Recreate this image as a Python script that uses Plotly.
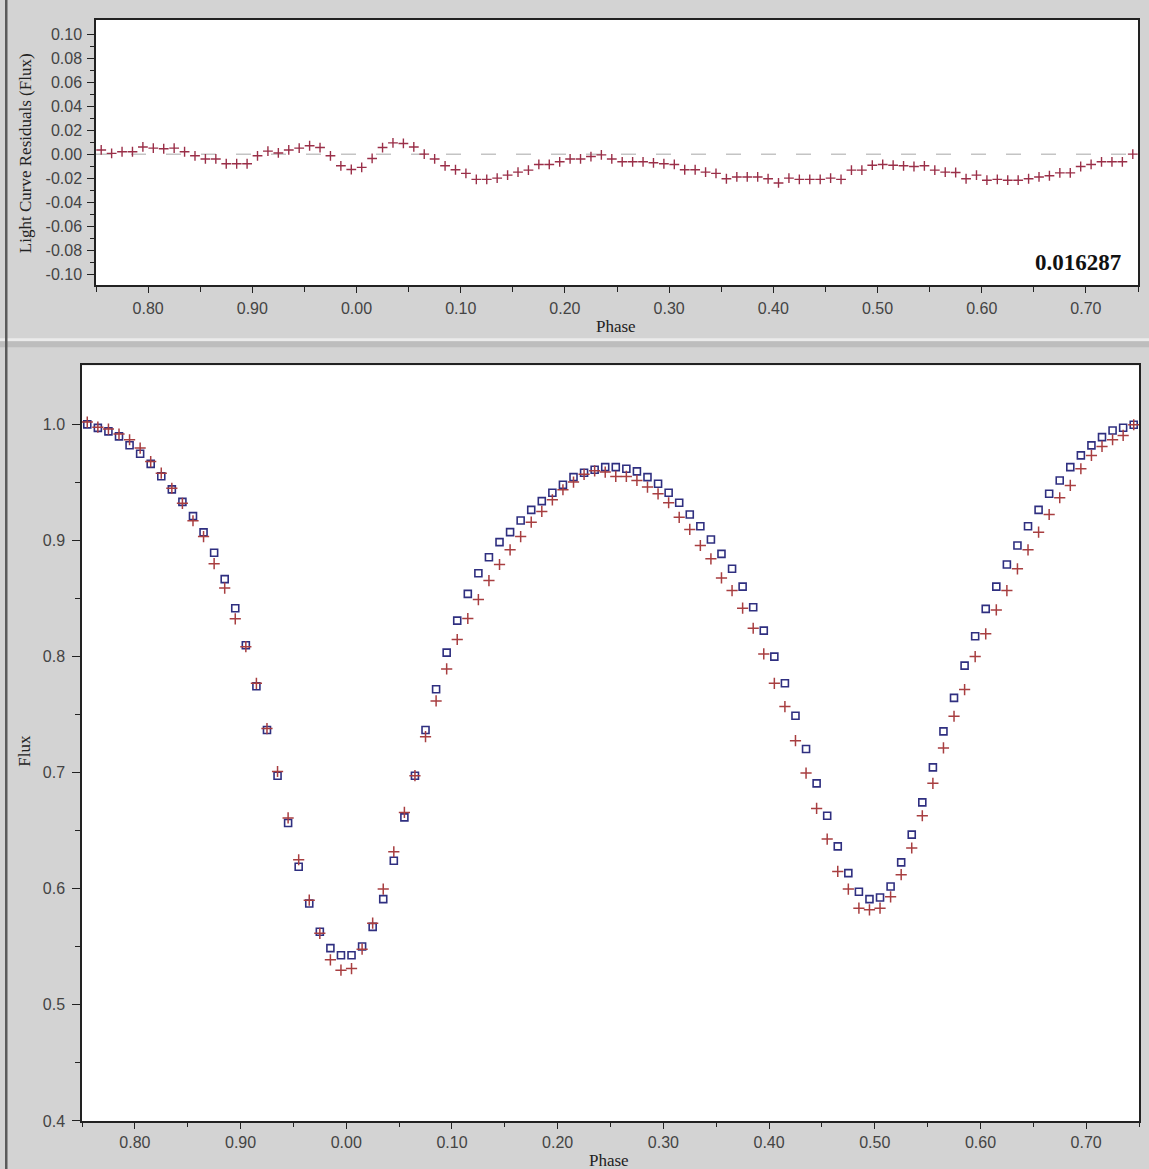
import plotly.graph_objects as go

# ---------------- data ----------------
PHASE = [
    0.755, 0.765, 0.775, 0.785, 0.795, 0.805, 0.815, 0.825, 0.835, 0.845,
    0.855, 0.865, 0.875, 0.885, 0.895, 0.905, 0.915, 0.925, 0.935, 0.945,
    0.955, 0.965, 0.975, 0.985, 0.995, 1.005, 1.015, 1.025, 1.035, 1.045,
    1.055, 1.065, 1.075, 1.085, 1.095, 1.105, 1.115, 1.125, 1.135, 1.145,
    1.155, 1.165, 1.175, 1.185, 1.195, 1.205, 1.215, 1.225, 1.235, 1.245,
    1.255, 1.265, 1.275, 1.285, 1.295, 1.305, 1.315, 1.325, 1.335, 1.345,
    1.355, 1.365, 1.375, 1.385, 1.395, 1.405, 1.415, 1.425, 1.435, 1.445,
    1.455, 1.465, 1.475, 1.485, 1.495, 1.505, 1.515, 1.525, 1.535, 1.545,
    1.555, 1.565, 1.575, 1.585, 1.595, 1.605, 1.615, 1.625, 1.635, 1.645,
    1.655, 1.665, 1.675, 1.685, 1.695, 1.705, 1.715, 1.725, 1.735, 1.745,
]

RESIDUALS = [
    0.0035, 0.0006, 0.002, 0.002, 0.006, 0.005, 0.0045, 0.005, 0.002, -0.0014,
    -0.004, -0.004, -0.008, -0.008, -0.008, -0.0014, 0.0025, 0.001, 0.0035, 0.005,
    0.007, 0.0055, -0.0014, -0.0097, -0.0128, -0.011, -0.0036, 0.0055, 0.0094, 0.0089,
    0.006, 0.000, -0.004, -0.0097, -0.013, -0.016, -0.021, -0.021, -0.020, -0.0175,
    -0.015, -0.0133, -0.0086, -0.0086, -0.0064, -0.004, -0.004, -0.002, -0.0006, -0.004,
    -0.0064, -0.0064, -0.0064, -0.0072, -0.008, -0.0086, -0.013, -0.013, -0.015, -0.016,
    -0.0205, -0.019, -0.019, -0.019, -0.0205, -0.024, -0.020, -0.021, -0.021, -0.021,
    -0.020, -0.021, -0.0133, -0.0133, -0.0092, -0.0086, -0.0092, -0.0097, -0.0103, -0.0097,
    -0.0133, -0.015, -0.0153, -0.0205, -0.0175, -0.0217, -0.021, -0.0217, -0.0217, -0.0205,
    -0.019, -0.018, -0.0156, -0.0156, -0.0103, -0.0086, -0.0064, -0.0064, -0.0064, 0.000,
]

MODEL_FLUX = [
    1.000, 0.997, 0.994, 0.9897, 0.982, 0.9747, 0.966, 0.9554, 0.944, 0.9333,
    0.921, 0.907, 0.8894, 0.8667, 0.8417, 0.8098, 0.7744, 0.7368, 0.6974, 0.6566,
    0.619, 0.5873, 0.563, 0.5489, 0.5428, 0.5428, 0.5503, 0.5672, 0.5911, 0.6241,
    0.6615, 0.6974, 0.7368, 0.7718, 0.8034, 0.831, 0.854, 0.8718, 0.8856, 0.8986,
    0.9072, 0.9172, 0.9264, 0.9339, 0.9411, 0.948, 0.9546, 0.9583, 0.961, 0.9632,
    0.9632, 0.9618, 0.9595, 0.9546, 0.9489, 0.9411, 0.9325, 0.9224, 0.9123, 0.9009,
    0.8885, 0.8756, 0.8603, 0.8425, 0.8224, 0.800, 0.777, 0.7491, 0.7204, 0.6908,
    0.6629, 0.6365, 0.6135, 0.5974, 0.5911, 0.5925, 0.602, 0.6227, 0.6466, 0.6744,
    0.7046, 0.7356, 0.7644, 0.7922, 0.8175, 0.8411, 0.8603, 0.8793, 0.8957, 0.9123,
    0.9264, 0.9402, 0.9517, 0.9632, 0.9733, 0.9819, 0.989, 0.9948, 0.9971, 0.9997,
]

OBSERVED_FLUX = [
    1.002, 0.9976, 0.996, 0.9917, 0.9868, 0.9796, 0.968, 0.958, 0.945, 0.932,
    0.917, 0.9034, 0.880, 0.859, 0.8325, 0.8085, 0.777, 0.738, 0.701, 0.661,
    0.625, 0.5902, 0.5616, 0.5388, 0.5299, 0.5313, 0.548, 0.5704, 0.5997, 0.6319,
    0.6658, 0.6974, 0.731, 0.7618, 0.7894, 0.8147, 0.8328, 0.8491, 0.8655, 0.8793,
    0.892, 0.9034, 0.9158, 0.925, 0.935, 0.9437, 0.9503, 0.957, 0.960, 0.9589,
    0.9552, 0.9552, 0.9517, 0.946, 0.9402, 0.9325, 0.920, 0.9095, 0.8957, 0.8842,
    0.8678, 0.8569, 0.8417, 0.8244, 0.8023, 0.777, 0.7569, 0.7276, 0.6997, 0.6692,
    0.6428, 0.6149, 0.5997, 0.5833, 0.5819, 0.5833, 0.5931, 0.6121, 0.6351, 0.6629,
    0.6908, 0.7213, 0.7486, 0.7716, 0.800, 0.8196, 0.8402, 0.8569, 0.8756, 0.892,
    0.9072, 0.9224, 0.9368, 0.9474, 0.9618, 0.9733, 0.981, 0.9868, 0.9905, 0.9997,
]

RMS_TEXT = "0.016287"

PHASE_TICKS = [0.8, 0.9, 1.0, 1.1, 1.2, 1.3, 1.4, 1.5, 1.6, 1.7]
PHASE_TICK_LABELS = ["0.80", "0.90", "0.00", "0.10", "0.20", "0.30",
                     "0.40", "0.50", "0.60", "0.70"]
PHASE_MINOR = [0.75, 0.85, 0.95, 1.05, 1.15, 1.25, 1.35, 1.45, 1.55, 1.65, 1.75]

RES_TICKS = [0.10, 0.08, 0.06, 0.04, 0.02, 0.00, -0.02, -0.04, -0.06, -0.08, -0.10]
RES_TICK_LABELS = ["\u20070.10", "\u20070.08", "\u20070.06", "\u20070.04", "\u20070.02",
                   "\u20070.00", "-0.02", "-0.04", "-0.06", "-0.08", "-0.10"]
RES_MINOR = [0.09, 0.07, 0.05, 0.03, 0.01, -0.01, -0.03, -0.05, -0.07, -0.09]

FLUX_TICKS = [1.0, 0.9, 0.8, 0.7, 0.6, 0.5, 0.4]
FLUX_TICK_LABELS = ["1.0", "0.9", "0.8", "0.7", "0.6", "0.5", "0.4"]
FLUX_MINOR = [0.95, 0.85, 0.75, 0.65, 0.55, 0.45]

# ---------------- layout geometry (reference pixels -> paper) ----------------
W, H_REF = 1149, 1169
H = 1179  # slightly taller canvas to match the reference's vertical spacing


def px(x):
    return x / W


def py(y):
    return 1 - y / H_REF


BG = "#d3d3d3"
TICK_FONT = dict(family="Liberation Sans", size=16, color="#444444")
SERIF = "Liberation Serif"
RES_CROSS_COLOR = "#9a2f48"
CROSS_COLOR = "#a83e40"
SQUARE_COLOR = "#2f2f80"
AX = "#222222"

fig = go.Figure()

# residuals (top panel)
fig.add_trace(go.Scatter(
    x=PHASE, y=RESIDUALS, mode="markers", xaxis="x", yaxis="y",
    marker=dict(symbol="cross-thin-open", size=7, color=RES_CROSS_COLOR,
                line=dict(width=1.4, color=RES_CROSS_COLOR)),
    showlegend=False, hoverinfo="x+y"))

# model & observed flux (bottom panel)
fig.add_trace(go.Scatter(
    x=PHASE, y=MODEL_FLUX, mode="markers", xaxis="x2", yaxis="y2",
    marker=dict(symbol="square-open", size=7, color=SQUARE_COLOR,
                line=dict(width=1.6, color=SQUARE_COLOR)),
    showlegend=False, hoverinfo="x+y"))
fig.add_trace(go.Scatter(
    x=PHASE, y=OBSERVED_FLUX, mode="markers", xaxis="x2", yaxis="y2",
    marker=dict(symbol="cross-thin-open", size=8, color=CROSS_COLOR,
                line=dict(width=1.5, color=CROSS_COLOR)),
    showlegend=False, hoverinfo="x+y"))

axis_common = dict(
    showgrid=False, zeroline=False, showline=True, linecolor=AX,
    linewidth=1.5, mirror=True, ticks="outside", tickwidth=1.3,
    tickcolor=AX, tickfont=TICK_FONT, tickmode="array",
)

fig.update_layout(
    width=W, height=H,
    margin=dict(l=0, r=0, t=0, b=0),
    paper_bgcolor=BG, plot_bgcolor="white",
    xaxis=dict(axis_common, domain=[px(96), px(1138)], range=[0.75, 1.75],
               anchor="y", tickvals=PHASE_TICKS, ticktext=PHASE_TICK_LABELS,
               ticklen=6, ticklabelstandoff=2,
               minor=dict(tickvals=PHASE_MINOR, ticks="outside", ticklen=5,
                          tickwidth=1.3, tickcolor=AX)),
    yaxis=dict(axis_common, domain=[py(285), py(20)], range=[-0.1092, 0.1117],
               anchor="x", tickvals=RES_TICKS, ticktext=RES_TICK_LABELS,
               ticklen=7, ticklabelstandoff=2,
               minor=dict(tickvals=RES_MINOR, ticks="outside", ticklen=4,
                          tickwidth=1.3, tickcolor=AX)),
    xaxis2=dict(axis_common, domain=[px(82), px(1139)], range=[0.75, 1.75],
                anchor="y2", tickvals=PHASE_TICKS, ticktext=PHASE_TICK_LABELS,
                ticklen=6, ticklabelstandoff=0,
                minor=dict(tickvals=PHASE_MINOR, ticks="outside", ticklen=4,
                           tickwidth=1.3, tickcolor=AX)),
    yaxis2=dict(axis_common, domain=[py(1120), py(365)], range=[0.4, 1.0509],
                anchor="x2", tickvals=FLUX_TICKS, ticktext=FLUX_TICK_LABELS,
                ticklen=8, ticklabelstandoff=4,
                minor=dict(tickvals=FLUX_MINOR, ticks="outside", ticklen=5,
                           tickwidth=1.3, tickcolor=AX)),
)

# zero reference line in the residual panel
fig.add_shape(type="line", xref="x", yref="y", x0=0.75, x1=1.75, y0=0, y1=0,
              line=dict(color="#c4c4c4", width=1.5, dash="15px,20px"),
              layer="below")

# window chrome: separator between the two panels and left border
fig.add_shape(type="rect", xref="paper", yref="paper",
              x0=0, x1=1, y0=py(341), y1=py(338),
              line=dict(width=0), fillcolor="#ebebeb", layer="below")
fig.add_shape(type="rect", xref="paper", yref="paper",
              x0=0, x1=1, y0=py(347), y1=py(341),
              line=dict(width=0), fillcolor="#bdbdbd", layer="below")
fig.add_shape(type="rect", xref="paper", yref="paper",
              x0=px(5), x1=px(7.5), y0=0, y1=1,
              line=dict(width=0), fillcolor="#5a5a5a", layer="below")

annotations = [
    dict(text="Light Curve Residuals (Flux)", x=px(25), y=py(153), textangle=-90,
         font=dict(family=SERIF, size=17, color="#222222")),
    dict(text="Phase", x=px(616), y=py(326),
         font=dict(family=SERIF, size=17, color="#222222")),
    dict(text="Flux", x=px(25), y=py(750), textangle=-90,
         font=dict(family=SERIF, size=17, color="#222222")),
    dict(text="Phase", x=px(609), y=py(1160),
         font=dict(family=SERIF, size=17, color="#222222")),
    dict(text="<b>" + RMS_TEXT + "</b>", x=px(1123), y=py(262), xanchor="right",
         font=dict(family=SERIF, size=23, color="#111111")),
]
for a in annotations:
    a.setdefault("xanchor", "center")
    a.update(xref="paper", yref="paper", yanchor="middle", showarrow=False)
    fig.add_annotation(**a)

PAGE_JS = (
    "document.documentElement.style.margin='0';"
    "document.documentElement.style.padding='0';"
    "document.documentElement.style.overflow='hidden';"
    "document.documentElement.style.background='" + BG + "';"
    "document.body.style.margin='0';"
    "document.body.style.padding='0';"
    "document.body.style.overflow='hidden';"
    "document.body.style.background='" + BG + "';"
)

fig.write_html("out.html", config={"displayModeBar": False},
               post_script=PAGE_JS)
